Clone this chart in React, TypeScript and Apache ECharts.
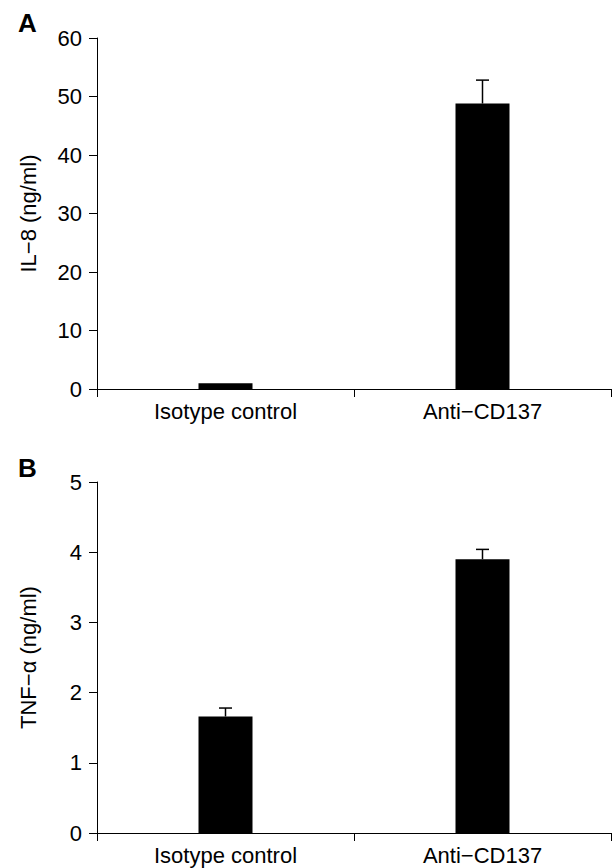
import React, { useEffect, useRef } from "react";
import * as echarts from "echarts";

const categories = ["Isotype control", "Anti−CD137"];
const il8Values = [1.0, 48.8];
const il8Errors = [0, 4.0];
const tnfValues = [1.66, 3.9];
const tnfErrors = [0.12, 0.14];
const il8Ticks = { min: 0, max: 60, interval: 10 };
const tnfTicks = { min: 0, max: 5, interval: 1 };

const FONT = "'Liberation Sans', Arial, sans-serif";

function errorSeries(xIdx: number, values: number[], errs: number[]) {
  return {
    type: "custom",
    xAxisIndex: xIdx,
    yAxisIndex: xIdx,
    data: values.map((v, i) => [i, v, errs[i]]),
    encode: { x: 0, y: 1 },
    z: 5,
    renderItem: (params: any, api: any) => {
      const err = api.value(2);
      if (!err) return { type: "group", children: [] };
      const base = api.coord([api.value(0), api.value(1)]);
      const top = api.coord([api.value(0), api.value(1) + err]);
      const style = { stroke: "#000", lineWidth: 1.5 };
      return {
        type: "group",
        children: [
          { type: "line", shape: { x1: base[0], y1: base[1], x2: top[0], y2: top[1] }, style },
          { type: "line", shape: { x1: top[0] - 6.5, y1: top[1], x2: top[0] + 6.5, y2: top[1] }, style },
        ],
      };
    },
  };
}

function xAxis(gridIndex: number) {
  return {
    type: "category",
    gridIndex,
    data: categories,
    axisLine: { lineStyle: { color: "#000", width: 1 } },
    axisTick: { show: true, length: 8, lineStyle: { color: "#000" } },
    axisLabel: { color: "#000", fontSize: 22, fontFamily: FONT, margin: 11 },
  };
}

function yAxis(gridIndex: number, name: string, t: { min: number; max: number; interval: number }) {
  return {
    type: "value",
    gridIndex,
    min: t.min,
    max: t.max,
    interval: t.interval,
    name,
    nameLocation: "middle",
    nameGap: 58,
    nameTextStyle: { color: "#000", fontSize: 22, fontFamily: FONT },
    splitLine: { show: false },
    axisLine: { show: true, lineStyle: { color: "#000", width: 1 } },
    axisTick: { show: true, length: 8, lineStyle: { color: "#000" } },
    axisLabel: { color: "#000", fontSize: 22, fontFamily: FONT, margin: 15 },
  };
}

export default function App() {
  const ref = useRef<HTMLDivElement>(null);
  useEffect(() => {
    if (!ref.current) return;
    const chart = echarts.init(ref.current, null, { renderer: "svg" });
    chart.setOption({
      animation: false,
      backgroundColor: "#fff",
      grid: [
        { left: 97, top: 38, width: 514, height: 351 },
        { left: 97, top: 482, width: 514, height: 351 },
      ],
      xAxis: [xAxis(0), xAxis(1)],
      yAxis: [yAxis(0, "IL−8 (ng/ml)", il8Ticks), yAxis(1, "TNF−α (ng/ml)", tnfTicks)],
      graphic: [
        { type: "text", left: 18, top: 10, style: { text: "A", fontSize: 26, fontWeight: "bold", fontFamily: FONT, fill: "#000" } },
        { type: "text", left: 18, top: 455, style: { text: "B", fontSize: 26, fontWeight: "bold", fontFamily: FONT, fill: "#000" } },
      ],
      series: [
        { type: "bar", xAxisIndex: 0, yAxisIndex: 0, data: il8Values, barWidth: 54, itemStyle: { color: "#000" } },
        errorSeries(0, il8Values, il8Errors),
        { type: "bar", xAxisIndex: 1, yAxisIndex: 1, data: tnfValues, barWidth: 54, itemStyle: { color: "#000" } },
        errorSeries(1, tnfValues, tnfErrors),
      ],
    });
    return () => chart.dispose();
  }, []);
  return <div ref={ref} style={{ position: "absolute", left: 0, top: 0, width: 614, height: 868 }} />;
}
